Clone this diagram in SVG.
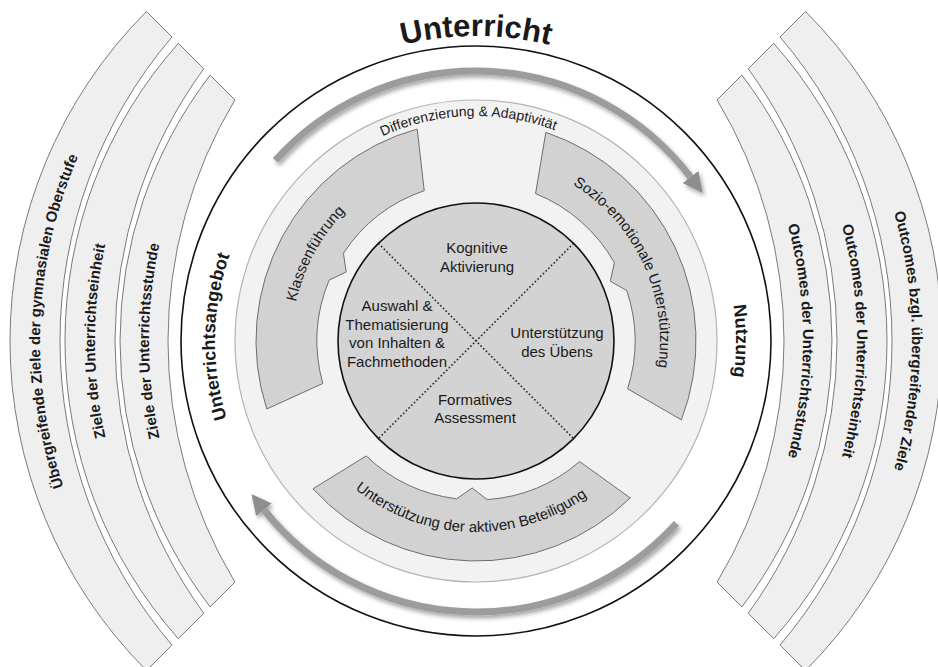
<svg xmlns="http://www.w3.org/2000/svg" width="938" height="667" viewBox="0 0 938 667">
  <style>
    text { font-family: "Liberation Sans", Arial, sans-serif; fill: #1a1a1a; }
    .band { fill: #efefef; stroke: #7a7a7a; stroke-width: 1; }
    .seg { fill: #d2d2d2; stroke: #6e6e6e; stroke-width: 1; }
    .bandlabel { font-size: 15px; font-weight: bold; }
    .side { font-size: 18px; font-weight: bold; }
    .seglabel { font-size: 15px; }
    .core { font-size: 15px; text-anchor: middle; }
    .flow { fill: none; stroke: #9c9c9c; stroke-width: 7; marker-end: url(#head); }
  </style>
  <defs>
    <marker id="head" markerUnits="userSpaceOnUse" markerWidth="24" markerHeight="24" viewBox="0 -12 24 24" refX="0" refY="0" orient="auto">
      <path d="M0,-10 L20,0 L0,10 Z" fill="#8e8e8e"/>
    </marker>
    <filter id="shadow" x="-10%" y="-10%" width="120%" height="130%">
      <feDropShadow dx="2" dy="3" stdDeviation="2" flood-color="#000" flood-opacity="0.35"/>
    </filter>
    <!-- text baselines -->
    <path id="tTitle" d="M279.95,107.36 A305,305 0 0 1 672.05,107.36"/>
    <path id="tAngebot" d="M276.06,508.77 A261,261 0 0 1 282.04,166.36"/>
    <path id="tNutzung" d="M675.17,173.87 A260,260 0 0 1 675.17,508.13"/>
    <path id="tL1" d="M162.04,654.96 A464.87,464.87 0 0 1 162.04,27.04"/>
    <path id="tL2" d="M193.86,623.14 A452.03,452.03 0 0 1 193.86,58.86"/>
    <path id="tL3" d="M225.33,591.67 A449.76,449.76 0 0 1 225.33,90.33"/>
    <path id="tR1" d="M789.96,27.04 A464.87,464.87 0 0 1 789.96,654.96"/>
    <path id="tR2" d="M758.14,58.86 A452.03,452.03 0 0 1 758.14,623.14"/>
    <path id="tR3" d="M726.67,90.33 A449.76,449.76 0 0 1 726.67,591.67"/>
    <path id="tDiff" d="M298.70,202.48 A225,225 0 0 1 643.21,190.45"/>
    <path id="tKlasse" d="M303.10,403.93 A184,184 0 0 1 434.61,161.72"/>
    <path id="tSozio" d="M532.86,166.00 A184,184 0 0 1 646.60,409.93"/>
    <path id="tBeteil" d="M325.89,459.12 A191,191 0 0 0 618.39,468.31"/>
  </defs>

  <!-- goals (left) -->
  <g id="goals-oberstufe">
    <path class="band" d="M146.49,670.51 A466,466 0 0 1 146.49,11.49 L171.94,36.94 A468.93,468.93 0 0 0 171.94,645.06 Z"/>
    <text class="bandlabel"><textPath href="#tL1" startOffset="53%" text-anchor="middle">Übergreifende Ziele der gymnasialen Oberstufe</textPath></text>
  </g>
  <g id="goals-einheit">
    <path class="band" d="M178.31,638.69 A447.7,447.7 0 0 1 178.31,43.31 L203.76,68.76 A461.87,461.87 0 0 0 203.76,613.24 Z"/>
    <text class="bandlabel"><textPath href="#tL2" startOffset="50%" text-anchor="middle">Ziele der Unterrichtseinheit</textPath></text>
  </g>
  <g id="goals-stunde">
    <path class="band" d="M210.13,606.87 A437.21,437.21 0 0 1 210.13,75.13 L234.88,99.88 A468.09,468.09 0 0 0 234.88,582.12 Z"/>
    <text class="bandlabel"><textPath href="#tL3" startOffset="50%" text-anchor="middle">Ziele der Unterrichtsstunde</textPath></text>
  </g>

  <!-- outcomes (right) -->
  <g id="outcomes-ziele">
    <path class="band" d="M805.51,11.49 A466,466 0 0 1 805.51,670.51 L780.06,645.06 A468.93,468.93 0 0 0 780.06,36.94 Z"/>
    <text class="bandlabel"><textPath href="#tR1" startOffset="50%" text-anchor="middle">Outcomes bzgl. übergreifender Ziele</textPath></text>
  </g>
  <g id="outcomes-einheit">
    <path class="band" d="M773.69,43.31 A447.7,447.7 0 0 1 773.69,638.69 L748.24,613.24 A461.87,461.87 0 0 0 748.24,68.76 Z"/>
    <text class="bandlabel"><textPath href="#tR2" startOffset="50%" text-anchor="middle">Outcomes der Unterrichtseinheit</textPath></text>
  </g>
  <g id="outcomes-stunde">
    <path class="band" d="M741.87,75.13 A437.21,437.21 0 0 1 741.87,606.87 L717.12,582.12 A468.09,468.09 0 0 0 717.12,99.88 Z"/>
    <text class="bandlabel"><textPath href="#tR3" startOffset="50%" text-anchor="middle">Outcomes der Unterrichtsstunde</textPath></text>
  </g>

  <!-- lesson frame -->
  <g id="unterricht">
    <circle cx="476" cy="341" r="295" fill="none" stroke="#111" stroke-width="1.6"/>
    <text style="font-size:31px;font-weight:bold"><textPath href="#tTitle" startOffset="50%" text-anchor="middle">Unterricht</textPath></text>
    <text class="side"><textPath href="#tAngebot" startOffset="50%" text-anchor="middle">Unterrichtsangebot</textPath></text>
    <text class="side"><textPath href="#tNutzung" startOffset="50%" text-anchor="middle">Nutzung</textPath></text>
  </g>

  <!-- cycle arrows -->
  <g id="connectors" filter="url(#shadow)">
    <path class="flow" d="M275.35,160.33 A270,270 0 0 1 690.49,177.01"/>
    <path class="flow" d="M676.44,523.39 A271,271 0 0 1 263.91,509.70"/>
  </g>

  <!-- differentiation ring -->
  <g id="differenzierung">
    <circle cx="476" cy="341" r="241" fill="#f2f2f2" stroke="#b4b4b4" stroke-width="1.2"/>
    <text style="font-size:14px"><textPath href="#tDiff" startOffset="50%" text-anchor="middle">Differenzierung &amp; Adaptivität</textPath></text>
  </g>

  <g id="klassenfuehrung">
    <path class="seg" d="M266.77,408.98 A220,220 0 0 1 417.21,129 L424.23,190.66 A159,159 0 0 0 343.41,253.24 L346.21,271.99 L329.10,280.15 A159,159 0 0 0 322.78,383.49 Z"/>
    <text class="seglabel"><textPath href="#tKlasse" startOffset="50%" text-anchor="middle">Klassenführung</textPath></text>
  </g>
  <g id="sozio-emotional">
    <path class="seg" d="M545.81,132.37 A220,220 0 0 1 681.39,419.84 L627.64,388.81 A159,159 0 0 0 626.78,290.55 L610.29,281.21 L614.39,262.71 A159,159 0 0 0 535.56,193.58 Z"/>
    <text class="seglabel"><textPath href="#tSozio" startOffset="50%" text-anchor="middle">Sozio-emotionale Unterstützung</textPath></text>
  </g>
  <g id="beteiligung">
    <path class="seg" d="M630.20,497.92 A220,220 0 0 1 313.02,488.78 L366.15,455.95 A159,159 0 0 0 456.62,498.82 L472.15,487.95 L487.09,499.61 A159,159 0 0 0 579.68,461.54 Z"/>
    <text class="seglabel"><textPath href="#tBeteil" startOffset="50%" text-anchor="middle">Unterstützung der aktiven Beteiligung</textPath></text>
  </g>

  <!-- core dimensions -->
  <g id="kern">
    <circle cx="476" cy="341" r="138" fill="#d3d3d3" stroke="#111" stroke-width="1.6"/>
    <line x1="378.42" y1="243.42" x2="573.58" y2="438.58" stroke="#222" stroke-width="1.6" stroke-dasharray="1.6 2.2"/>
    <line x1="573.58" y1="243.42" x2="378.42" y2="438.58" stroke="#222" stroke-width="1.6" stroke-dasharray="1.6 2.2"/>
    <text class="core" x="477" y="253">Kognitive</text>
    <text class="core" x="477" y="272">Aktivierung</text>
    <text class="core" x="397" y="311">Auswahl &amp;</text>
    <text class="core" x="397" y="330">Thematisierung</text>
    <text class="core" x="397" y="348">von Inhalten &amp;</text>
    <text class="core" x="397" y="367">Fachmethoden</text>
    <text class="core" x="557" y="338">Unterstützung</text>
    <text class="core" x="557" y="357">des Übens</text>
    <text class="core" x="475" y="405">Formatives</text>
    <text class="core" x="475" y="423">Assessment</text>
  </g>
</svg>
